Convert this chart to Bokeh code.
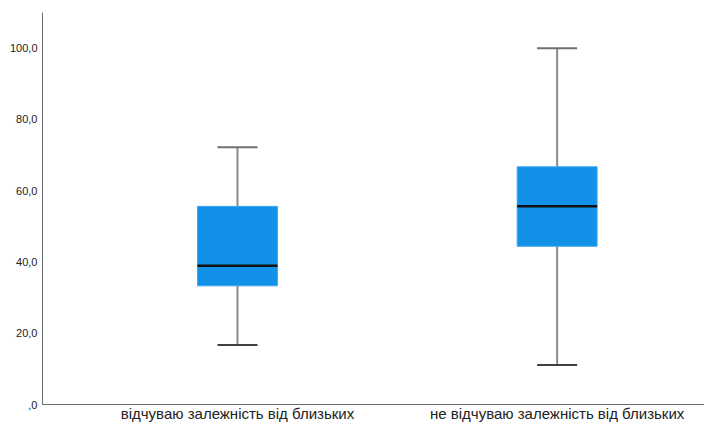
from bokeh.plotting import figure
from bokeh.models import Range1d, FixedTicker, ColumnDataSource
from bokeh.embed import file_html
from bokeh.resources import INLINE

# ---- data ----
categories = ["відчуваю залежність від близьких", "не відчуваю залежність від близьких"]
lower_whisker = [16.7, 11.1]
q1 = [33.3, 44.4]
median = [38.9, 55.6]
q3 = [55.6, 66.7]
upper_whisker = [72.2, 100.0]
y_ticks = [0, 20, 40, 60, 80, 100]
y_tick_labels = [",0", "20,0", "40,0", "60,0", "80,0", "100,0"]

xs = list(range(1, len(categories) + 1))
src = ColumnDataSource(dict(x=xs, lo=lower_whisker, q1=q1, med=median, q3=q3, hi=upper_whisker))

p = figure(width=704, height=424, output_backend="svg", toolbar_location=None,
           x_range=Range1d(0.39, 2.461), y_range=Range1d(0, 110),
           min_border_left=42, min_border_right=0, min_border_top=12, min_border_bottom=10)
p.outline_line_color = None
p.xgrid.visible = False
p.ygrid.visible = False
p.background_fill_color = "white"
p.border_fill_color = "white"

whisk_col = "#8a8a8a"
p.segment(x0="x", y0="lo", x1="x", y1="q1", source=src, line_color=whisk_col, line_width=2)
p.segment(x0="x", y0="q3", x1="x", y1="hi", source=src, line_color=whisk_col, line_width=2)
p.dash(x="x", y="hi", source=src, size=40, line_color="#707070", line_width=2)
p.dash(x="x", y="lo", source=src, size=40, line_color="#404040", line_width=2)
p.vbar(x="x", width=0.25, bottom="q1", top="q3", source=src,
       fill_color="#1192E8", line_color="#3fa6ee", line_width=1)
p.dash(x="x", y="med", source=src, size=80, line_color="#111111", line_width=2.5)

# y axis
ya = p.yaxis[0]
ya.ticker = FixedTicker(ticks=y_ticks)
ya.major_label_overrides = {t: l for t, l in zip(y_ticks, y_tick_labels)}
ya.major_tick_line_color = None
ya.minor_tick_line_color = None
ya.major_tick_out = 0
ya.major_tick_in = 0
ya.major_label_standoff = 5
ya.axis_line_color = "#6e6e6e"
ya.major_label_text_font = "Liberation Sans"
ya.major_label_text_font_size = "11px"
ya.major_label_text_color = "#222222"

# x axis
xa = p.xaxis[0]
xa.ticker = FixedTicker(ticks=xs)
xa.major_label_overrides = {x: c for x, c in zip(xs, categories)}
xa.major_tick_line_color = None
xa.minor_tick_line_color = None
xa.major_tick_out = 0
xa.major_tick_in = 0
xa.major_label_standoff = 0
xa.axis_line_color = "#6e6e6e"
xa.major_label_text_font = "Liberation Sans"
xa.major_label_text_font_size = "15px"
xa.major_label_text_color = "#222222"

open("out.html", "w").write(file_html(p, INLINE))
